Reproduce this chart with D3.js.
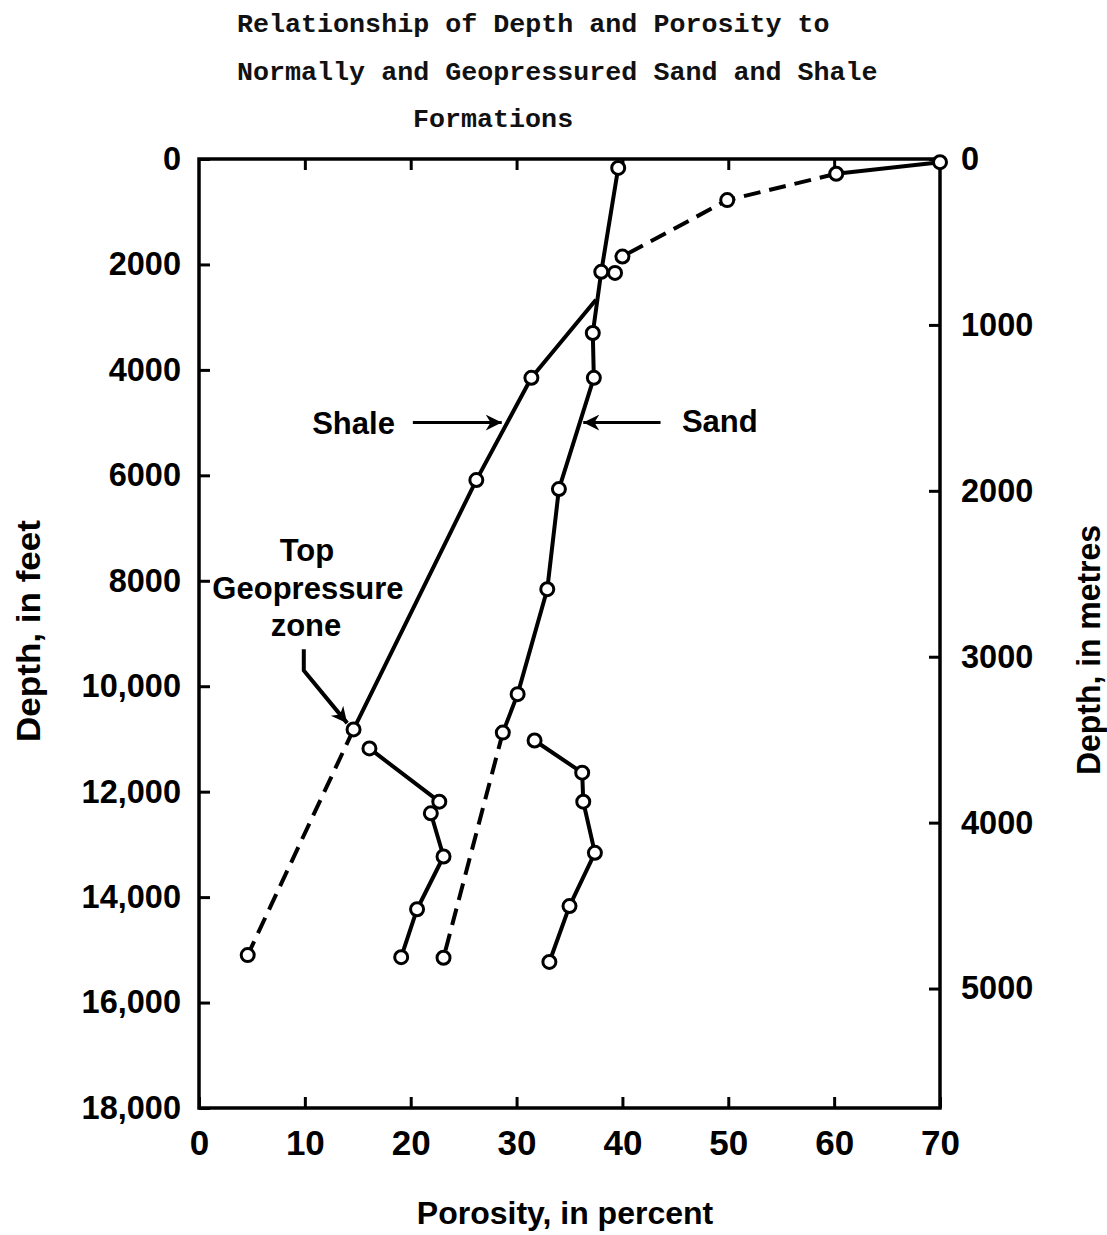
<!DOCTYPE html>
<html>
<head>
<meta charset="utf-8">
<script src="https://cdn.jsdelivr.net/npm/d3@7"></script>
<style>
  html, body { margin: 0; padding: 0; background: #fff; }
  svg { display: block; }
</style>
</head>
<body>
<svg id="chart" width="1107" height="1235"></svg>
<script>
// ---------------- DATA ----------------
const titleLines = [
  "Relationship of Depth and Porosity to",
  "Normally and Geopressured Sand and Shale",
  "Formations"
];
const xTickValues = [0, 10, 20, 30, 40, 50, 60, 70];
const yFeetTicks = [0, 2000, 4000, 6000, 8000, 10000, 12000, 14000, 16000, 18000];
const yMetreTicks = [0, 1000, 2000, 3000, 4000, 5000];

// Sand, normally pressured (solid)
const sandNormalPorosity = [39.6, 38.0, 37.2, 37.3, 34.0, 32.9, 30.1, 28.7];
const sandNormalDepth    = [170, 2140, 3300, 4150, 6260, 8160, 10150, 10880];
// Sand, extrapolated (dashed)
const sandExtrapPorosity = [28.7, 23.1];
const sandExtrapDepth    = [10880, 15150];
// Sand, geopressured
const sandGeoPorosity = [31.7, 36.2, 36.3, 37.4, 35.0, 33.1];
const sandGeoDepth    = [11030, 11640, 12190, 13160, 14170, 15230];

// Shale, shallow (solid first segment, then dashed)
const shaleTopPorosity = [70.0, 60.2];
const shaleTopDepth    = [60, 280];
const shaleShallowPorosity = [60.2, 49.9, 40.0];
const shaleShallowDepth    = [280, 780, 1850];
const shaleIsolatedPorosity = [39.3];
const shaleIsolatedDepth    = [2160];
// Shale, normally pressured (starts where it joins sand curve)
const shaleNormalPorosity = [37.5, 31.4, 26.2, 14.6];
const shaleNormalDepth    = [2670, 4150, 6090, 10820];
const shaleNormalMarked   = [false, true, true, true];
// Shale, extrapolated (dashed)
const shaleExtrapPorosity = [14.6, 4.6];
const shaleExtrapDepth    = [10820, 15100];
// Shale, geopressured
const shaleGeoPorosity = [16.1, 22.7, 21.9, 23.1, 20.6, 19.1];
const shaleGeoDepth    = [11180, 12190, 12410, 13230, 14230, 15140];

// ---------------- CHART ----------------
const svg = d3.select("#chart");
const L = 199, R = 940, T = 159, B = 1108;

const x = d3.scaleLinear().domain([0, 70]).range([L, R]);
const y = d3.scaleLinear().domain([0, 18000]).range([T, B]);
const yM = d3.scaleLinear().domain([0, 5720]).range([T, B]);

const zip = (ps, ds, marks) => ps.map((p, i) => ({p, d: ds[i], m: marks ? marks[i] : true}));

// Title
const titleG = svg.append("g")
  .attr("font-family", "'Liberation Mono', 'DejaVu Sans Mono', monospace")
  .attr("font-size", 26.7)
  .attr("font-weight", "bold")
  .attr("fill", "#111");
titleG.append("text").attr("x", 237).attr("y", 32).text(titleLines[0]);
titleG.append("text").attr("x", 237).attr("y", 80).text(titleLines[1]);
titleG.append("text").attr("x", 413).attr("y", 127).text(titleLines[2]);

// Frame
svg.append("rect")
  .attr("x", L).attr("y", T).attr("width", R - L).attr("height", B - T)
  .attr("fill", "none").attr("stroke", "#000").attr("stroke-width", 3.5);

const sansBold = "'Liberation Sans', Arial, sans-serif";

// Left axis (feet)
const fmtFeet = d => d >= 10000 ? d3.format(",")(d) : String(d);
const leftAx = svg.append("g").attr("transform", `translate(${L},0)`)
  .call(d3.axisLeft(y).tickValues(yFeetTicks).tickSize(-11).tickPadding(18).tickFormat(fmtFeet));
leftAx.select(".domain").remove();
leftAx.selectAll("line").attr("stroke", "#000").attr("stroke-width", 3);
leftAx.selectAll("text").attr("font-family", sansBold).attr("font-size", 32.5)
  .attr("font-weight", "bold").attr("fill", "#000");

// Right axis (metres)
const rightAx = svg.append("g").attr("transform", `translate(${R},0)`)
  .call(d3.axisRight(yM).tickValues(yMetreTicks).tickSize(-11).tickPadding(21)
    .tickFormat(d => String(d)));
rightAx.select(".domain").remove();
rightAx.selectAll("line").attr("stroke", "#000").attr("stroke-width", 3);
rightAx.selectAll("text").attr("font-family", sansBold).attr("font-size", 32.5)
  .attr("font-weight", "bold").attr("fill", "#000");

// Bottom axis
const botAx = svg.append("g").attr("transform", `translate(0,${B})`)
  .call(d3.axisBottom(x).tickValues(xTickValues).tickSize(-11).tickPadding(22));
botAx.select(".domain").remove();
botAx.selectAll("line").attr("stroke", "#000").attr("stroke-width", 3);
botAx.selectAll("text").attr("font-family", sansBold).attr("font-size", 35)
  .attr("font-weight", "bold").attr("fill", "#000");

// Top axis (ticks only)
const topAx = svg.append("g").attr("transform", `translate(0,${T})`)
  .call(d3.axisTop(x).tickValues(xTickValues.slice(1, -1)).tickSize(-11).tickFormat(""));
topAx.select(".domain").remove();
topAx.selectAll("line").attr("stroke", "#000").attr("stroke-width", 3);

// Axis titles
svg.append("text")
  .attr("x", 565).attr("y", 1224).attr("text-anchor", "middle")
  .attr("font-family", sansBold).attr("font-size", 32).attr("font-weight", "bold")
  .text("Porosity, in percent");
svg.append("text")
  .attr("transform", "translate(40,631) rotate(-90)").attr("text-anchor", "middle")
  .attr("font-family", sansBold).attr("font-size", 34).attr("font-weight", "bold")
  .attr("textLength", 222).attr("lengthAdjust", "spacingAndGlyphs")
  .text("Depth, in feet");
svg.append("text")
  .attr("transform", "translate(1100,650) rotate(-90)").attr("text-anchor", "middle")
  .attr("font-family", sansBold).attr("font-size", 34).attr("font-weight", "bold")
  .attr("textLength", 250).attr("lengthAdjust", "spacingAndGlyphs")
  .text("Depth, in metres");

// Lines
const line = d3.line().x(d => x(d.p)).y(d => y(d.d));
const plotG = svg.append("g");
function drawLine(data, dashed) {
  plotG.append("path").datum(data)
    .attr("d", line).attr("fill", "none").attr("stroke", "#000")
    .attr("stroke-width", 4).attr("stroke-linecap", "butt").attr("stroke-linejoin", "round")
    .attr("stroke-dasharray", dashed ? "17,9" : null);
}
const sandNormal = zip(sandNormalPorosity, sandNormalDepth);
const sandExtrap = zip(sandExtrapPorosity, sandExtrapDepth);
const sandGeo = zip(sandGeoPorosity, sandGeoDepth);
const shaleTop = zip(shaleTopPorosity, shaleTopDepth);
const shaleShallow = zip(shaleShallowPorosity, shaleShallowDepth);
const shaleIsolated = zip(shaleIsolatedPorosity, shaleIsolatedDepth);
const shaleNormal = zip(shaleNormalPorosity, shaleNormalDepth, shaleNormalMarked);
const shaleExtrap = zip(shaleExtrapPorosity, shaleExtrapDepth);
const shaleGeo = zip(shaleGeoPorosity, shaleGeoDepth);

drawLine(sandNormal, false);
drawLine(sandExtrap, true);
drawLine(sandGeo, false);
drawLine(shaleTop, false);
drawLine(shaleShallow, true);
drawLine(shaleNormal, false);
drawLine(shaleExtrap, true);
drawLine(shaleGeo, false);

// Markers
const allPts = [].concat(sandNormal, sandExtrap.slice(1), sandGeo, shaleTop, shaleShallow.slice(1),
  shaleIsolated, shaleNormal, shaleExtrap.slice(1), shaleGeo).filter(d => d.m);
plotG.selectAll("circle.pt").data(allPts).enter().append("circle")
  .attr("class", "pt")
  .attr("cx", d => x(d.p)).attr("cy", d => y(d.d)).attr("r", 6.5)
  .attr("fill", "#fff").attr("stroke", "#000").attr("stroke-width", 3);

// Annotations
const defs = svg.append("defs");
defs.append("marker").attr("id", "ah").attr("viewBox", "0 0 10 10")
  .attr("refX", 10).attr("refY", 5)
  .attr("markerUnits", "userSpaceOnUse").attr("orient", "auto")
  .attr("markerWidth", 22).attr("markerHeight", 16)
  .append("path").attr("d", "M0,0 L10,5 L0,10 L3,5 Z").attr("fill", "#000");

const annG = svg.append("g").attr("font-family", sansBold).attr("font-weight", "bold")
  .attr("font-size", 31).attr("fill", "#000");
annG.append("text").attr("x", x(14.6)).attr("y", 434).attr("text-anchor", "middle").text("Shale");
annG.append("text").attr("x", x(49.2)).attr("y", 432).attr("text-anchor", "middle").text("Sand");
annG.append("text").attr("x", 307).attr("y", 561).attr("text-anchor", "middle").text("Top");
annG.append("text").attr("x", 308).attr("y", 599).attr("text-anchor", "middle").text("Geopressure");
annG.append("text").attr("x", 306).attr("y", 636).attr("text-anchor", "middle").text("zone");

svg.append("path")
  .attr("d", `M${x(20.2)},${y(5000)} L${x(28.6)},${y(5000)}`)
  .attr("stroke", "#000").attr("stroke-width", 3).attr("fill", "none")
  .attr("marker-end", "url(#ah)");
svg.append("path")
  .attr("d", `M${x(43.6)},${y(5000)} L${x(36.3)},${y(5000)}`)
  .attr("stroke", "#000").attr("stroke-width", 3).attr("fill", "none")
  .attr("marker-end", "url(#ah)");
svg.append("path")
  .attr("d", `M${x(9.9)},${y(9300)} L${x(9.9)},${y(9700)} L${x(14.0)},${y(10700)}`)
  .attr("stroke", "#000").attr("stroke-width", 4).attr("fill", "none")
  .attr("stroke-linejoin", "round")
  .attr("marker-end", "url(#ah)");
</script>
</body>
</html>
